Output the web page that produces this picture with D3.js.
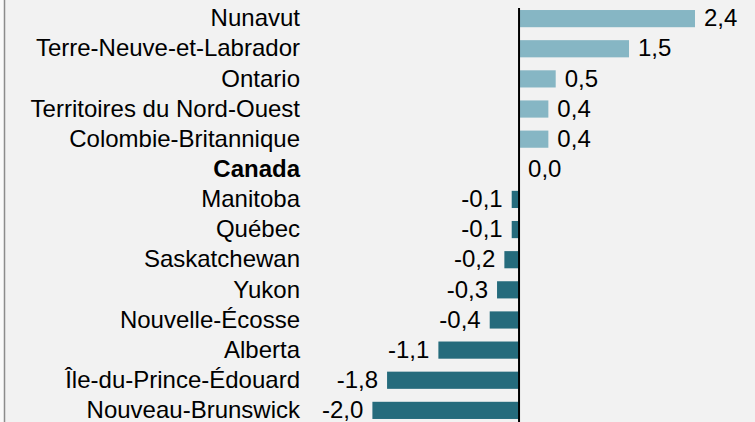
<!DOCTYPE html>
<html>
<head>
<meta charset="utf-8">
<script src="https://cdn.jsdelivr.net/npm/d3@7"></script>
<style>
  html, body { margin: 0; padding: 0; background: #f2f2f2; }
  svg { display: block; font-family: "Liberation Sans", Arial, sans-serif; }
</style>
</head>
<body>
<svg id="chart" width="755" height="422"></svg>
<script>
const provinces = ["Nunavut", "Terre-Neuve-et-Labrador", "Ontario", "Territoires du Nord-Ouest",
  "Colombie-Britannique", "Canada", "Manitoba", "Québec", "Saskatchewan", "Yukon",
  "Nouvelle-Écosse", "Alberta", "Île-du-Prince-Édouard", "Nouveau-Brunswick"];
const values = [2.4, 1.5, 0.5, 0.4, 0.4, 0.0, -0.1, -0.1, -0.2, -0.3, -0.4, -1.1, -1.8, -2.0];

const data = provinces.map((p, i) => ({name: p, value: values[i]}));

const svg = d3.select("#chart"),
      W = +svg.attr("width"),
      H = +svg.attr("height");

// background + left frame line
svg.append("rect").attr("width", W).attr("height", H).attr("fill", "#f2f2f2");
svg.append("rect").attr("width", 4).attr("height", H).attr("fill", "#fafafa");
svg.append("line").attr("x1", 4.5).attr("x2", 4.5).attr("y1", 0).attr("y2", H)
   .attr("stroke", "#8c8c8c").attr("stroke-width", 1.5);

const x = d3.scaleLinear().domain([-2, 2.4]).range([372.4, 695]);
const y = d3.scaleBand().domain(provinces).range([4, 425]).paddingInner(0.43).paddingOuter(0.2);

const fmt = v => d3.format(".1f")(v).replace(".", ",").replace("−", "-");

svg.selectAll(".bar")
  .data(data)
  .enter().append("rect")
    .attr("class", "bar")
    .attr("x", d => x(Math.min(0, d.value)))
    .attr("y", d => y(d.name))
    .attr("width", d => Math.abs(x(d.value) - x(0)))
    .attr("height", y.bandwidth())
    .attr("fill", d => d.value >= 0 ? "#86b6c4" : "#256b7c");

// zero line
svg.append("line")
  .attr("x1", x(0)).attr("x2", x(0))
  .attr("y1", 8).attr("y2", H)
  .attr("stroke", "#000").attr("stroke-width", 2);

// category labels
svg.selectAll(".cat")
  .data(data)
  .enter().append("text")
    .attr("class", "cat")
    .attr("x", 300)
    .attr("y", d => y(d.name) + y.bandwidth() / 2)
    .attr("dy", "0.32em")
    .attr("text-anchor", "end")
    .style("font-size", "24px")
    .style("font-weight", d => d.name === "Canada" ? "bold" : "normal")
    .attr("fill", "#000")
    .text(d => d.name);

// value labels
svg.selectAll(".val")
  .data(data)
  .enter().append("text")
    .attr("class", "val")
    .attr("x", d => d.value >= 0 ? x(d.value) + 9 : x(d.value) - 9)
    .attr("y", d => y(d.name) + y.bandwidth() / 2)
    .attr("dy", "0.32em")
    .attr("text-anchor", d => d.value >= 0 ? "start" : "end")
    .style("font-size", "24px")
    .attr("fill", "#000")
    .text(d => fmt(d.value));
</script>
</body>
</html>
